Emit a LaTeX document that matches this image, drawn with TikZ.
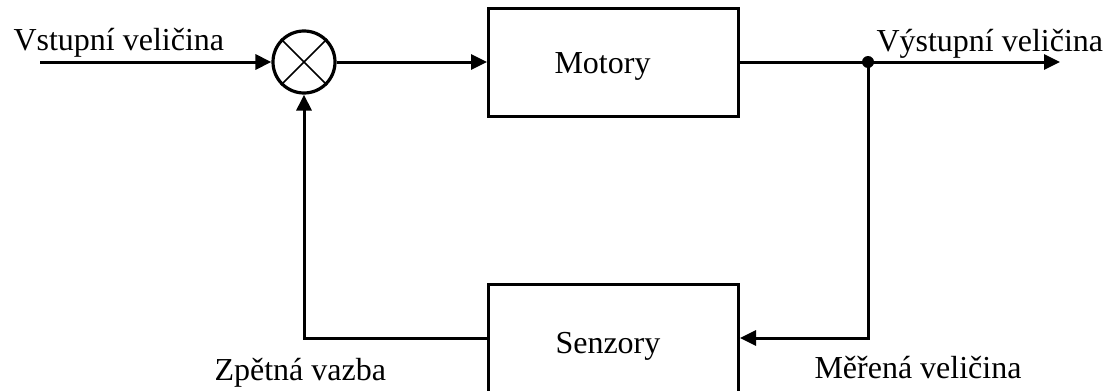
\documentclass[tikz,border=0pt]{standalone}
\usepackage{fontspec}
\setmainfont{Liberation Serif}
\usetikzlibrary{arrows.meta}
\begin{document}
\begin{tikzpicture}[x=0.5pt,y=-0.5pt, line width=1.5pt,
  >={Triangle[length=8pt,width=7.5pt]},
  blk/.style={draw, line width=1.5pt, minimum width=125pt, minimum height=54pt, inner sep=0pt, anchor=west},
  lbl/.style={font=\fontsize{16}{19}\selectfont, anchor=base west, inner sep=0pt}]
\useasboundingbox (0,0) rectangle (1109,391);
\node[blk] (mot) at (487,62) {};
\node[blk] (sen) at (487,338) {};
\node[circle, draw, line width=1.6pt, minimum size=31pt, inner sep=0pt] (sum) at (304,62) {};
\draw[line width=0.75pt] (sum.north west) -- (sum.south east);
\draw[line width=0.75pt] (sum.north east) -- (sum.south west);
\coordinate (in) at (40,62);
\coordinate (dot) at (868,62);
\coordinate (out) at (1060,62);
\draw[->] (in) -- (sum.west);
\draw[->] (sum.east) -- (mot.west);
\draw (mot.east) -- (dot);
\draw[->] (dot) -- (out);
\draw[->] (dot) |- (sen.east);
\draw[->] (sen.west) -| (sum.south);
\fill (dot) circle (3pt);
\node[lbl] (t1) at (12,50) {Vstupní veličina};
\node[lbl] (t2) at (875,51) {Výstupní veličina};
\node[lbl] (t3) at (553,73) {Motory};
\node[lbl] (t4) at (554,353) {Senzory};
\node[lbl] (t5) at (213,380) {Zpětná vazba};
\node[lbl] (t6) at (813,378) {Měřená veličina};
\end{tikzpicture}
\end{document}
